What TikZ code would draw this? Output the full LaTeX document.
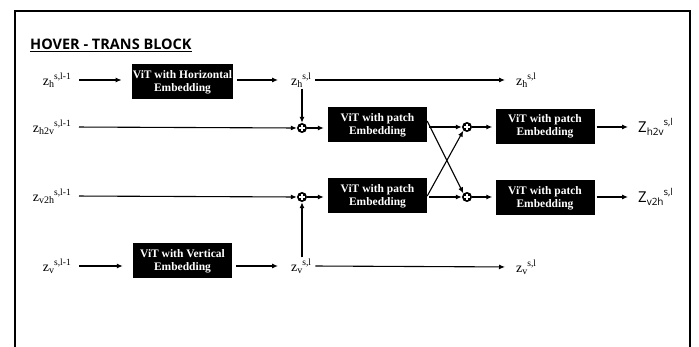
\documentclass[tikz,border=0pt]{standalone}
\usepackage{fontspec}
\setmainfont{Liberation Serif}
\setsansfont{Open Sans}
\usetikzlibrary{arrows.meta}

\newcommand{\lo}[1]{\raisebox{-0.35ex}{\fontsize{10}{11}\selectfont #1}}
\newcommand{\hi}[1]{\raisebox{0.9ex}{\fontsize{9.5}{11}\selectfont #1}}

\tikzset{
	vitbox/.style={fill=black, text=white, align=center, inner sep=1pt,
		minimum width=99pt, minimum height=35pt,
		font=\bfseries\fontsize{11.5}{13}\selectfont},
	sumnode/.style={circle, fill=black, minimum size=10pt, inner sep=0pt,
		path picture={
			\draw[white, line width=1.3pt]
				([xshift=-3pt]path picture bounding box.center) -- ([xshift=3pt]path picture bounding box.center)
				([yshift=-3pt]path picture bounding box.center) -- ([yshift=3pt]path picture bounding box.center);}},
	lbl/.style={inner sep=1pt, font=\fontsize{14}{15}\selectfont},
	outlbl/.style={inner sep=1pt, font=\sffamily\fontsize{15}{16}\selectfont},
	flow/.style={-{Latex[length=6pt, width=5pt]}, line width=1.1pt},
}

\begin{document}
\begin{tikzpicture}[x=1pt, y=-1pt]
				\useasboundingbox (0,0) rectangle (699,347);
				% Frame and title:
				\draw[line width=2.6pt] (15,350) -- (15,11) -- (690,11) -- (690,350);
				\node[anchor=base west, inner sep=0pt, font=\sffamily\bfseries\fontsize{14.5}{16}\selectfont] (title) at (30,50) {\underline{HOVER - TRANS BLOCK}};
				% Inputs:
				\node[lbl, anchor=east] (inH) at (72,80) {z\lo{h}\hi{s,l-1}};
				\node[lbl, anchor=east] (inHV) at (72,127) {z\lo{h2v}\hi{s,l-1}};
				\node[lbl, anchor=east] (inVH) at (72,196) {z\lo{v2h}\hi{s,l-1}};
				\node[lbl, anchor=east] (inV) at (72,266) {z\lo{v}\hi{s,l-1}};
				% Blocks:
				\node[vitbox] (boxH) at (182.5,82) {ViT with Horizontal\\Embedding};
				\node[vitbox] (boxV) at (182.5,261) {ViT with Vertical\\Embedding};
				\node[vitbox] (boxP1) at (377.5,125) {ViT with patch\\Embedding};
				\node[vitbox] (boxP2) at (377.5,196) {ViT with patch\\Embedding};
				\node[vitbox] (boxP3) at (545,126.5) {ViT with patch\\Embedding};
				\node[vitbox] (boxP4) at (545,198) {ViT with patch\\Embedding};
				% Intermediate and output labels:
				\node[lbl, anchor=west] (midH) at (290,80) {z\lo{h}\hi{s,l}};
				\node[lbl, anchor=west] (midV) at (290,266) {z\lo{v}\hi{s,l}};
				\node[lbl, anchor=west] (outH) at (515,80) {z\lo{h}\hi{s,l}};
				\node[lbl, anchor=west] (outV) at (515,267) {z\lo{v}\hi{s,l}};
				\node[outlbl, anchor=west] (outHV) at (637,127) {Z\lo{h2v}\hi{s,l}};
				\node[outlbl, anchor=west] (outVH) at (637,197) {Z\lo{v2h}\hi{s,l}};
				% Sums:
				\node[sumnode] (sum1) at (302,128) {};
				\node[sumnode] (sum2) at (467,127) {};
				\node[sumnode] (sum3) at (302,197) {};
				\node[sumnode] (sum4) at (467,197) {};
				% Connectors:
				\draw[flow, shorten <=7pt, shorten >=10pt] (inH.east) -- (inH.east -| boxH.west);
				\draw[flow, shorten <=4pt, shorten >=12pt] (inH.east -| boxH.east) -- (midH.west);
				\draw[flow, shorten <=3pt, shorten >=10pt] (midH.east) -- (outH.west);
				\draw[flow] (sum1 |- midH.south) -- (sum1.north);
				\draw[flow, shorten <=7pt] (inHV.east) -- (sum1.west);
				\draw[flow, shorten >=4pt] (sum1.east) -- (sum1 -| boxP1.west);
				\draw[flow, shorten <=2pt] (sum2 -| boxP1.east) -- (sum2.west);
				\draw[flow, shorten >=3pt] (sum2.east) -- (sum2 -| boxP3.west);
				\draw[flow, shorten <=2pt, shorten >=9pt] (sum2 -| boxP3.east) -- (outHV.west);
				\draw[flow, shorten <=7pt] (inVH.east) -- (sum3.west);
				\draw[flow, shorten >=4pt] (sum3.east) -- (sum3 -| boxP2.west);
				\draw[flow, shorten <=2pt] (sum4 -| boxP2.east) -- (sum4.west);
				\draw[flow, shorten >=3pt] (sum4.east) -- (sum4 -| boxP4.west);
				\draw[flow, shorten <=2pt, shorten >=9pt] (sum4 -| boxP4.east) -- (outVH.west);
				\draw[flow] ([yshift=4pt]boxP1.east) -- (sum4.north west);
				\draw[flow] (boxP2.east) -- (sum2.south west);
				\draw[flow] (sum3 |- midV.north) -- (sum3.south);
				\draw[flow, shorten <=7pt, shorten >=10pt] (inV.east) -- (inV.east -| boxV.west);
				\draw[flow, shorten <=4pt, shorten >=12pt] (inV.east -| boxV.east) -- (midV.west);
				\draw[flow, shorten <=3pt, shorten >=10pt] (midV.east) -- (outV.west);
\end{tikzpicture}
\end{document}
